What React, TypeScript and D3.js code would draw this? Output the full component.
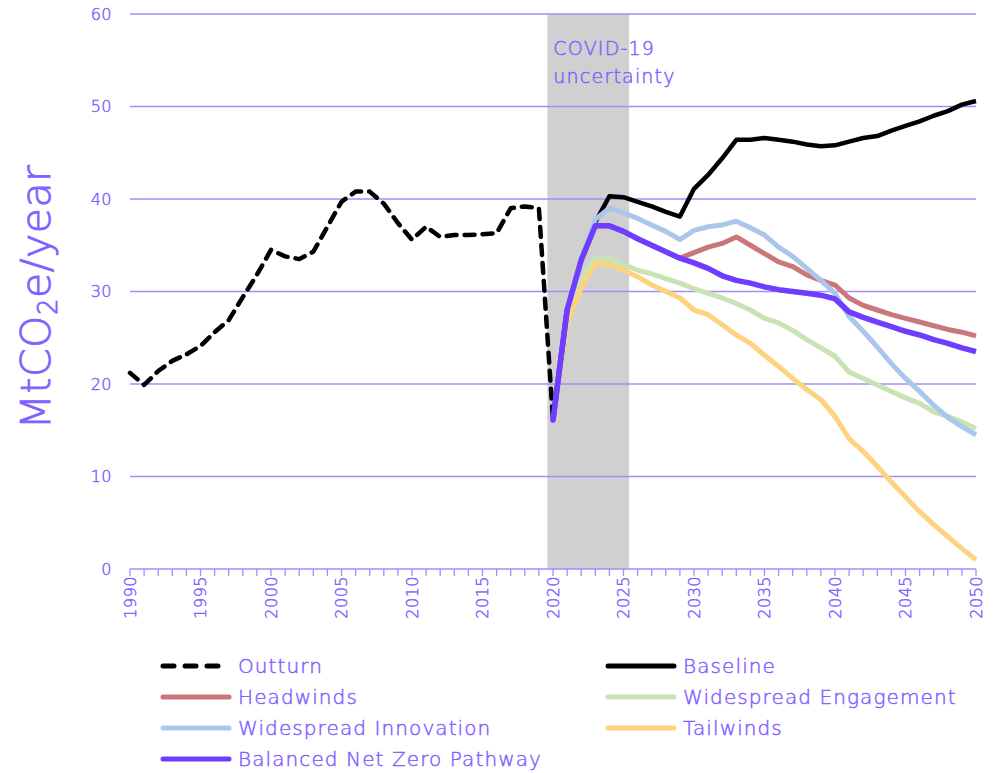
import * as d3 from 'd3'

const outturnYears = d3.range(1990, 2021)
const outturn = [
  21.2, 19.9, 21.4, 22.5, 23.2, 24.1, 25.6, 26.9, 29.4, 31.8, 34.5, 33.8, 33.5,
  34.3, 37.0, 39.7, 40.8, 40.8, 39.5, 37.4, 35.6, 37.0, 35.9, 36.1, 36.1, 36.2,
  36.3, 39.0, 39.2, 39.0, 16.1,
]

const scenarioYears = d3.range(2020, 2051)
const baseline = [
  16.1, 28.0, 33.4, 37.5, 40.3, 40.2, 39.7, 39.2, 38.6, 38.1, 41.1, 42.6, 44.4,
  46.4, 46.4, 46.6, 46.4, 46.2, 45.9, 45.7, 45.8, 46.2, 46.6, 46.8, 47.4, 47.9,
  48.4, 49.0, 49.5, 50.2, 50.6,
]
const headwinds = [
  16.1, 28.0, 33.4, 37.1, 37.1, 36.5, 35.7, 35.0, 34.3, 33.6, 34.2, 34.8, 35.2,
  35.9, 35.0, 34.1, 33.2, 32.7, 31.8, 31.2, 30.7, 29.3, 28.5, 28.0, 27.5, 27.1,
  26.7, 26.3, 25.9, 25.6, 25.2,
]
const engagement = [
  16.1, 27.0, 31.2, 33.6, 33.6, 32.9, 32.3, 31.9, 31.4, 30.9, 30.3, 29.8, 29.3,
  28.7, 28.0, 27.1, 26.6, 25.8, 24.8, 23.9, 23.0, 21.3, 20.6, 19.9, 19.2, 18.5,
  17.9, 17.0, 16.5, 15.9, 15.2,
]
const innovation = [
  16.1, 28.0, 33.4, 37.8, 39.0, 38.5, 37.9, 37.2, 36.5, 35.6, 36.6, 37.0, 37.2,
  37.6, 36.9, 36.1, 34.8, 33.8, 32.5, 31.2, 29.8, 27.3, 25.7, 24.0, 22.2, 20.6,
  19.2, 17.7, 16.4, 15.4, 14.5,
]
const tailwinds = [
  16.1, 26.6, 30.4, 33.0, 32.9, 32.3, 31.6, 30.7, 30.0, 29.3, 28.0, 27.5, 26.4,
  25.3, 24.4, 23.1, 21.9, 20.6, 19.4, 18.3, 16.5, 14.1, 12.7, 11.1, 9.4, 7.8,
  6.2, 4.8, 3.5, 2.2, 1.0,
]
const balanced = [
  16.1, 28.0, 33.4, 37.1, 37.1, 36.5, 35.7, 35.0, 34.3, 33.6, 33.1, 32.5, 31.7,
  31.2, 30.9, 30.5, 30.2, 30.0, 29.8, 29.6, 29.2, 27.8, 27.2, 26.7, 26.2, 25.7,
  25.3, 24.8, 24.4, 23.9, 23.5,
]

const yTicks = [0, 10, 20, 30, 40, 50, 60]
const xLabelYears = d3.range(1990, 2051, 5)
const covidBand = [2019.6, 2025.4]

const purpleText = '#8060ff'
const gridColor = '#a28cff'

// drawing order matches the original (balanced pathway on top)
const scenarios = [
  { name: 'Baseline', values: baseline, color: '#000000', width: 4.5 },
  { name: 'Headwinds', values: headwinds, color: '#c9777b', width: 5 },
  { name: 'Widespread Engagement', values: engagement, color: '#c8e3b4', width: 5 },
  { name: 'Widespread Innovation', values: innovation, color: '#abc6ec', width: 5 },
  { name: 'Tailwinds', values: tailwinds, color: '#ffd27f', width: 5 },
  { name: 'Balanced Net Zero Pathway', values: balanced, color: '#6f3dff', width: 5.5 },
]

const legendItems = [
  { name: 'Outturn', color: '#000000', dashed: true, col: 0, row: 0 },
  { name: 'Baseline', color: '#000000', dashed: false, col: 1, row: 0 },
  { name: 'Headwinds', color: '#c9777b', dashed: false, col: 0, row: 1 },
  { name: 'Widespread Engagement', color: '#c8e3b4', dashed: false, col: 1, row: 1 },
  { name: 'Widespread Innovation', color: '#abc6ec', dashed: false, col: 0, row: 2 },
  { name: 'Tailwinds', color: '#ffd27f', dashed: false, col: 1, row: 2 },
  { name: 'Balanced Net Zero Pathway', color: '#6f3dff', dashed: false, col: 0, row: 3 },
]

export default function App() {
  const margin = { top: 14, left: 130, right: 23, bottom: 204 }
  const width = 999
  const height = 773
  const innerW = width - margin.left - margin.right
  const innerH = height - margin.top - margin.bottom

  const x = d3.scaleLinear().domain([1990, 2050]).range([0, innerW])
  const y = d3.scaleLinear().domain([0, 60]).range([innerH, 0])

  const line = d3
    .line<number>()
    .x((_, i) => x(scenarioYears[i]))
    .y((d) => y(d))

  const outturnLine = d3
    .line<number>()
    .x((_, i) => x(outturnYears[i]))
    .y((d) => y(d))

  const font = '"DejaVu Sans", sans-serif'
  const allYears = d3.range(1990, 2051)
  // thin font with a hairline stroke to approximate the original's weight
  const textStyle = { fill: purpleText, stroke: purpleText, strokeWidth: 0.45 }

  return (
    <svg
      width={width}
      height={height}
      style={{ position: 'absolute', left: 0, top: 0, background: '#fff' }}
      fontFamily={font}
      fontWeight={300}
    >
      <g transform={`translate(${margin.left},${margin.top})`}>
        {/* COVID band */}
        <rect
          x={x(covidBand[0])}
          y={0}
          width={x(covidBand[1]) - x(covidBand[0])}
          height={innerH}
          fill="#d0d0d0"
        />

        {/* Gridlines */}
        {yTicks.map((t) => (
          <line
            key={t}
            x1={0}
            x2={innerW}
            y1={y(t)}
            y2={y(t)}
            stroke={gridColor}
            strokeWidth={1.3}
          />
        ))}

        {/* y tick labels */}
        {yTicks.map((t) => (
          <text
            key={t}
            x={-18}
            y={y(t)}
            dy="0.36em"
            textAnchor="end"
            fontSize={16}
            letterSpacing={0.5}
            {...textStyle}
          >
            {t}
          </text>
        ))}

        {/* x ticks */}
        {allYears.map((yr) => (
          <line
            key={yr}
            x1={x(yr)}
            x2={x(yr)}
            y1={innerH}
            y2={innerH + 7}
            stroke={gridColor}
            strokeWidth={1.3}
          />
        ))}
        {xLabelYears.map((yr) => (
          <text
            key={yr}
            transform={`translate(${x(yr)},${innerH + 7}) rotate(-90)`}
            dy="0.36em"
            textAnchor="end"
            fontSize={16}
            letterSpacing={0.5}
            {...textStyle}
          >
            {yr}
          </text>
        ))}

        <text x={x(covidBand[0]) + 6} y={41} fontSize={19} letterSpacing={1.2} {...textStyle}>
          COVID-19
        </text>
        <text x={x(covidBand[0]) + 6} y={69} fontSize={19} letterSpacing={1.2} {...textStyle}>
          uncertainty
        </text>

        {/* Scenario lines */}
        {scenarios.map((s) => (
          <path
            key={s.name}
            d={line(s.values) ?? ''}
            fill="none"
            stroke={s.color}
            strokeWidth={s.width}
            strokeLinejoin="round"
          />
        ))}

        {/* Outturn */}
        <path
          d={outturnLine(outturn) ?? ''}
          fill="none"
          stroke="#000"
          strokeWidth={4.5}
          strokeDasharray="10,8"
          strokeLinecap="round"
          strokeLinejoin="round"
        />
        {/* balanced pathway start drawn over outturn end */}
        <path
          d={line(balanced.slice(0, 2)) ?? ''}
          fill="none"
          stroke="#6f3dff"
          strokeWidth={5.5}
          strokeLinecap="round"
        />
      </g>

      {/* y axis title */}
      <text
        transform="translate(50,297) rotate(-90)"
        textAnchor="middle"
        fontSize={41}
        letterSpacing={0.5}
        {...textStyle}
        strokeWidth={0.8}
      >
        MtCO
        <tspan fontSize={26} dy={7}>
          2
        </tspan>
        <tspan dy={-7}>e/year</tspan>
      </text>

      {/* Legend */}
      {legendItems.map((it) => {
        const lx = it.col === 0 ? 163 : 608
        const ly = 666 + it.row * 31
        return (
          <g key={it.name}>
            <line
              x1={lx}
              x2={lx + 66}
              y1={ly}
              y2={ly}
              stroke={it.color}
              strokeWidth={5}
              strokeLinecap="round"
              strokeDasharray={it.dashed ? '11,11' : undefined}
            />
            <text
              x={lx + 75}
              y={ly}
              dy="0.36em"
              fontSize={20}
              letterSpacing={1.1}
              {...textStyle}
            >
              {it.name}
            </text>
          </g>
        )
      })}
    </svg>
  )
}
